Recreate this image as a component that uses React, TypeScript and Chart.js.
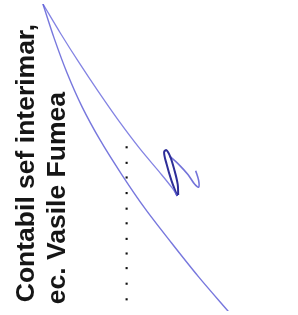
import React, { useEffect, useRef } from "react";
import { Chart, registerables } from "chart.js";

Chart.register(...registerables);

const textLines = ["Contabil sef interimar,", "ec. Vasile Fumea"];

const outerStroke = [
  { x: 40, y: 0 }, { x: 51.5, y: 35 }, { x: 64.5, y: 70 }, { x: 80, y: 105 },
  { x: 99, y: 140 }, { x: 121, y: 175 }, { x: 145, y: 210 }, { x: 172, y: 245 },
  { x: 200, y: 280 }, { x: 231, y: 316 },
];

const innerStroke = [
  { x: 40, y: 0 }, { x: 58, y: 30 }, { x: 77, y: 60 }, { x: 97, y: 90 },
  { x: 118, y: 120 }, { x: 140, y: 149 }, { x: 161, y: 174 }, { x: 173, y: 189 },
  { x: 178, y: 197 },
];

const loopStroke = [
  { x: 178, y: 197 }, { x: 172, y: 181 }, { x: 167, y: 164 }, { x: 164.5, y: 152 },
  { x: 167, y: 150 }, { x: 171, y: 157 }, { x: 175, y: 170 }, { x: 178.5, y: 185 },
  { x: 179, y: 196 },
];

const tailStroke = [
  { x: 170, y: 156 }, { x: 179, y: 164 }, { x: 189, y: 175 }, { x: 196, y: 185 },
  { x: 200, y: 188 }, { x: 200, y: 181 }, { x: 197, y: 171 },
];

const dotY = [147, 163, 178, 194, 210, 225, 241, 256, 271, 287, 303];
const dotX = 126;

const textPlugin = {
  id: "rotatedText",
  afterDatasetsDraw(chart: any) {
    const { ctx, scales } = chart;
    const xs = scales.x;
    const ys = scales.y;
    const anchors = [
      { x: 30.5, y: 306 },
      { x: 63, y: 308 },
    ];
    ctx.save();
    ctx.fillStyle = "#161616";
    ctx.font = "bold 26.5px 'Liberation Sans', Arial, sans-serif";
    ctx.textAlign = "left";
    ctx.textBaseline = "alphabetic";
    textLines.forEach((t, i) => {
      ctx.save();
      ctx.translate(xs.getPixelForValue(anchors[i].x), ys.getPixelForValue(anchors[i].y));
      ctx.rotate(-Math.PI / 2);
      ctx.fillText(t, 0, 0);
      ctx.restore();
    });
    ctx.restore();
  },
};

export default function App() {
  const ref = useRef<HTMLCanvasElement | null>(null);
  useEffect(() => {
    if (!ref.current) return;
    const lineDs = (data: any[], color: string, width: number, tension: number) => ({
      type: "line" as const,
      data,
      showLine: true,
      borderColor: color,
      borderWidth: width,
      pointRadius: 0,
      tension,
      fill: false,
    });
    const chart = new Chart(ref.current, {
      type: "scatter",
      data: {
        datasets: [
          lineDs(outerStroke, "rgba(95,95,215,0.85)", 1.4, 0.3),
          lineDs(innerStroke, "rgba(100,100,220,0.8)", 1.3, 0.3),
          lineDs(loopStroke, "#2e2e98", 2, 0.35),
          lineDs(tailStroke, "rgba(90,90,210,0.85)", 1.6, 0.35),
          {
            type: "scatter" as const,
            data: dotY.map((y) => ({ x: dotX, y })),
            pointStyle: "rect",
            pointRadius: 1.5,
            backgroundColor: "#111",
            borderWidth: 0,
          },
        ],
      } as any,
      options: {
        animation: false,
        responsive: false,
        maintainAspectRatio: false,
        layout: { padding: 0 },
        plugins: { legend: { display: false }, tooltip: { enabled: false } },
        scales: {
          x: { type: "linear", min: 0, max: 298, display: false },
          y: { type: "linear", min: 0, max: 315, reverse: true, display: false },
        },
      },
      plugins: [textPlugin],
    });
    return () => chart.destroy();
  }, []);
  return (
    <div style={{ position: "fixed", left: 0, top: 0, width: 298, height: 315, background: "#fff" }}>
      <canvas ref={ref} width={298} height={315} style={{ display: "block" }} />
    </div>
  );
}
